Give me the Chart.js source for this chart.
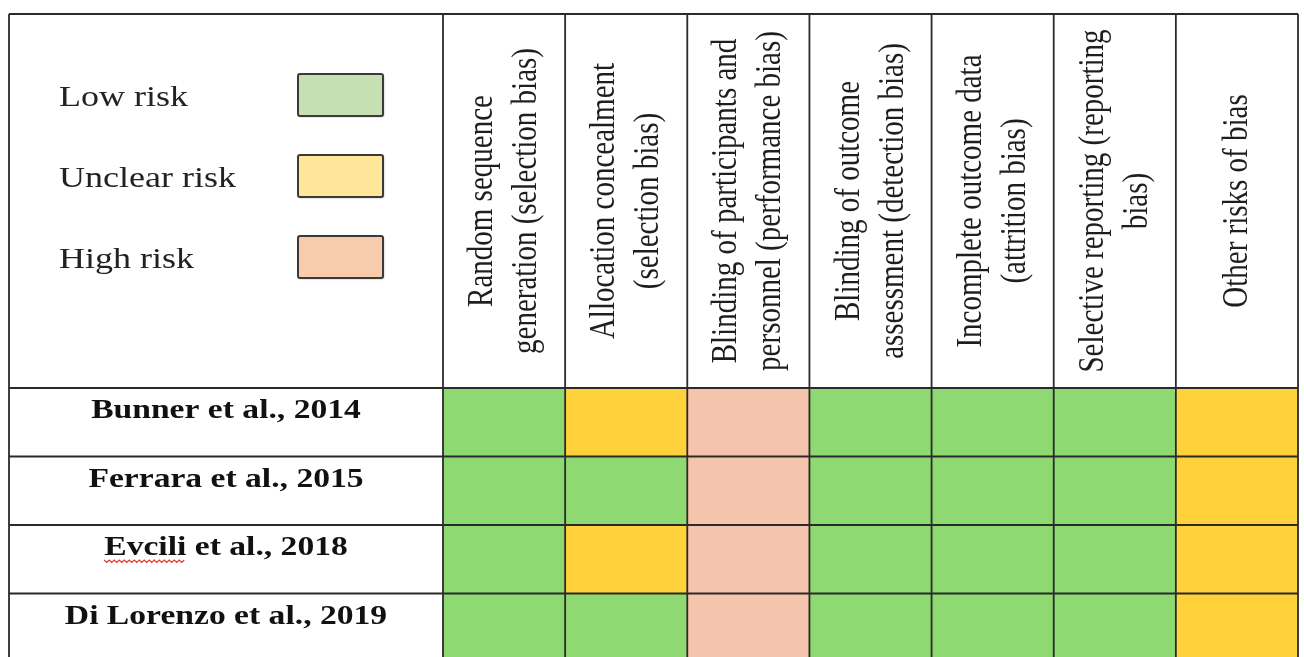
<!DOCTYPE html>
<html>
<head>
<meta charset="utf-8">
<script src="https://cdn.jsdelivr.net/npm/chart.js@4.4.1/dist/chart.umd.min.js"></script>
<style>
  html, body { margin: 0; padding: 0; background: #fff; }
  #wrap { width: 1304px; height: 657px; }
</style>
</head>
<body>
<div id="wrap"><canvas id="rob" width="1304" height="657"></canvas></div>
<script>
// --- Data ---
const studies = ['Bunner et al., 2014', 'Ferrara et al., 2015', 'Evcili et al., 2018', 'Di Lorenzo et al., 2019'];
const domains = [
    ['Random sequence', 'generation (selection bias)'],
    ['Allocation concealment', '(selection bias)'],
    ['Blinding of participants and', 'personnel (performance bias)'],
    ['Blinding of outcome', 'assessment (detection bias)'],
    ['Incomplete outcome data', '(attrition bias)'],
    ['Selective reporting (reporting', 'bias)'],
    ['Other risks of bias']
];
const riskLevels = ['Low risk', 'Unclear risk', 'High risk'];
const riskCodes = ['L', 'U', 'H'];

// judgement per domain (L = low, U = unclear, H = high)
const bunner    = ['L', 'U', 'H', 'L', 'L', 'L', 'U'];
const ferrara   = ['L', 'L', 'H', 'L', 'L', 'L', 'U'];
const evcili    = ['L', 'U', 'H', 'L', 'L', 'L', 'U'];
const diLorenzo = ['L', 'L', 'H', 'L', 'L', 'L', 'U'];
const judgements = [bunner, ferrara, evcili, diLorenzo];

const cellColors = { L: '#8fd973', U: '#ffd13b', H: '#f5c4ad' };
const legendColors = { L: '#c6e0b4', U: '#ffe699', H: '#f8cbad' };

// --- Look ---
const STRETCH = 1.2;           // the source table is a bit wider than tall
const LINE = '#2a2a2a';
const SERIF = "'Liberation Serif', 'Times New Roman', serif";
const TABLE_LEFT = 9;
const TABLE_TOP = 14;

function stretchedText(ctx, text, x, y, rotate) {
    ctx.save();
    ctx.translate(x, y);
    ctx.scale(STRETCH, 1);
    if (rotate) ctx.rotate(-Math.PI / 2);
    ctx.fillText(text, 0, 0);
    ctx.restore();
}

const tablePlugin = {
    id: 'robTable',
    afterDatasetsDraw(chart) {
        const ctx = chart.ctx;
        const { x, y } = chart.scales;
        const area = chart.chartArea;
        const bottom = chart.height + 10;

        ctx.save();
        ctx.strokeStyle = LINE;
        ctx.lineWidth = 1.8;

        // vertical lines (column boundaries, incl. right border)
        for (let i = 0; i <= domains.length; i++) {
            const px = x.getPixelForValue(i - 0.5);
            ctx.beginPath();
            ctx.moveTo(px, TABLE_TOP);
            ctx.lineTo(px, bottom);
            ctx.stroke();
        }
        // left border
        ctx.beginPath();
        ctx.moveTo(TABLE_LEFT, TABLE_TOP);
        ctx.lineTo(TABLE_LEFT, bottom);
        ctx.stroke();
        // top border
        ctx.beginPath();
        ctx.moveTo(TABLE_LEFT, TABLE_TOP);
        ctx.lineTo(area.right, TABLE_TOP);
        ctx.stroke();
        // row lines
        for (let r = 0; r <= studies.length; r++) {
            const py = y.getPixelForValue(r);
            ctx.beginPath();
            ctx.moveTo(TABLE_LEFT, py);
            ctx.lineTo(area.right, py);
            ctx.stroke();
        }

        // header (rotated domain names)
        ctx.fillStyle = '#1e1e1e';
        ctx.font = '29px ' + SERIF;
        ctx.textAlign = 'center';
        ctx.textBaseline = 'alphabetic';
        const headMid = (TABLE_TOP + area.top) / 2;
        domains.forEach((lines, i) => {
            const cx = x.getPixelForValue(i);
            lines.forEach((t, j) => {
                const bx = cx + 10 + (j - (lines.length - 1) / 2) * 44;
                stretchedText(ctx, t, bx, headMid, true);
            });
        });

        // study names
        ctx.fillStyle = '#111';
        ctx.font = 'bold 28px ' + SERIF;
        const labelX = (TABLE_LEFT + area.left) / 2;
        studies.forEach((s, r) => {
            const top = y.getPixelForValue(r);
            stretchedText(ctx, s, labelX, top + 30, false);
            if (s.startsWith('Evcili')) {
                // spell-check squiggle under the author name
                const full = ctx.measureText(s).width * STRETCH;
                const word = ctx.measureText('Evcili').width * STRETCH;
                const x0 = labelX - full / 2;
                const sy = top + 35;
                ctx.save();
                ctx.strokeStyle = '#e0392f';
                ctx.lineWidth = 1.2;
                ctx.beginPath();
                for (let k = 0; k * 2.5 <= word; k++) {
                    const px = x0 + k * 2.5;
                    const py = sy + (k % 2 === 0 ? 0 : 2.5);
                    if (k === 0) ctx.moveTo(px, py); else ctx.lineTo(px, py);
                }
                ctx.stroke();
                ctx.restore();
            }
        });

        // legend inside the top-left cell
        ctx.font = '30px ' + SERIF;
        ctx.textAlign = 'left';
        riskLevels.forEach((name, k) => {
            const boxY = 74 + k * 81;
            ctx.fillStyle = '#222';
            stretchedText(ctx, name, 59, boxY + 32, false);
            ctx.save();
            ctx.shadowColor = 'rgba(0,0,0,0.35)';
            ctx.shadowBlur = 2;
            ctx.shadowOffsetX = 1;
            ctx.shadowOffsetY = 1;
            ctx.fillStyle = legendColors[riskCodes[k]];
            ctx.beginPath();
            ctx.roundRect(298, boxY, 85, 42, 2);
            ctx.fill();
            ctx.restore();
            ctx.strokeStyle = '#3a3a3a';
            ctx.lineWidth = 2;
            ctx.beginPath();
            ctx.roundRect(298, boxY, 85, 42, 2);
            ctx.stroke();
        });

        ctx.restore();
    }
};

const ctx = document.getElementById('rob').getContext('2d');
new Chart(ctx, {
    type: 'bar',
    data: {
        labels: domains.map(d => d.join(' ')),
        datasets: judgements.map((row, i) => ({
            label: studies[i],
            data: row.map(() => 1),
            backgroundColor: row.map(code => cellColors[code]),
            borderWidth: 0,
            stack: 'rob',
            barPercentage: 1,
            categoryPercentage: 1
        }))
    },
    options: {
        responsive: false,
        devicePixelRatio: 1,
        animation: false,
        layout: { padding: { left: 443, top: 388, right: 6, bottom: 0 } },
        plugins: { legend: { display: false }, tooltip: { enabled: false } },
        scales: {
            x: { display: false, stacked: true },
            y: { display: false, stacked: true, reverse: true, min: 0, max: 3.927 }
        }
    },
    plugins: [tablePlugin]
});
</script>
</body>
</html>
